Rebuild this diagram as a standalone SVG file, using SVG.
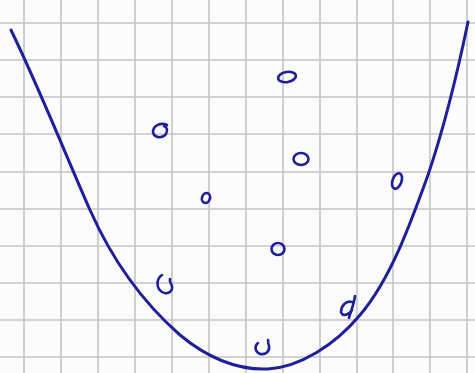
<svg xmlns="http://www.w3.org/2000/svg" width="475" height="373" viewBox="0 0 475 373">
<style>
.grid{stroke:#c4c4c4;stroke-width:1.6;fill:none}
.ink{stroke:#1f1f9c;stroke-width:3;fill:none;stroke-linecap:round;stroke-linejoin:round}
.mk{stroke:#1f1f9c;stroke-width:2.6;fill:none;stroke-linecap:round}
</style>
<rect x="0" y="0" width="475" height="373" fill="#fcfcfc"/>
<g class="grid">
<path d="M24,0V373M61,0V373M98,0V373M135,0V373M172,0V373M209,0V373M246,0V373M283,0V373M320,0V373M357,0V373M393,0V373M430,0V373M467,0V373"/>
<path d="M0,23H475M0,60H475M0,97H475M0,134H475M0,172H475M0,209H475M0,246H475M0,283H475M0,320H475M0,357H475"/>
</g>
<path class="ink" d="M11,30 C40,90 70,165 90,210 C110,255 140,300 180,335 C210,360 240,370 268,369 C300,367 335,345 360,315 C390,280 410,225 428,175 C445,125 458,70 468,22"/>
<g class="mk">
<path d="M167,125 C160,122 153,126 153,132 C154,138 162,139 166,134 C168,130 167,127 164,126"/>
<ellipse cx="287" cy="77" rx="9" ry="5" transform="rotate(-10 287 77)"/>
<ellipse cx="301" cy="159" rx="7.5" ry="6"/>
<ellipse cx="397" cy="181" rx="4.5" ry="8" transform="rotate(20 397 181)"/>
<ellipse cx="206" cy="198" rx="4" ry="5" transform="rotate(20 206 198)"/>
<ellipse cx="278" cy="249" rx="6.5" ry="6"/>
<path d="M162,275 C156,279 156,288 162,292 C167,295 173,292 172,286 C171,283 169,282 170,279"/>
<path d="M352,302 C346,300 341,306 341,312 C342,317 349,315 352,310 M355,296 C354,304 351,311 349,318"/>
<path d="M258,343 C254,346 255,352 260,354 C266,355 270,351 269,346 C268,343 268,341 268,340"/>
</g>
</svg>
